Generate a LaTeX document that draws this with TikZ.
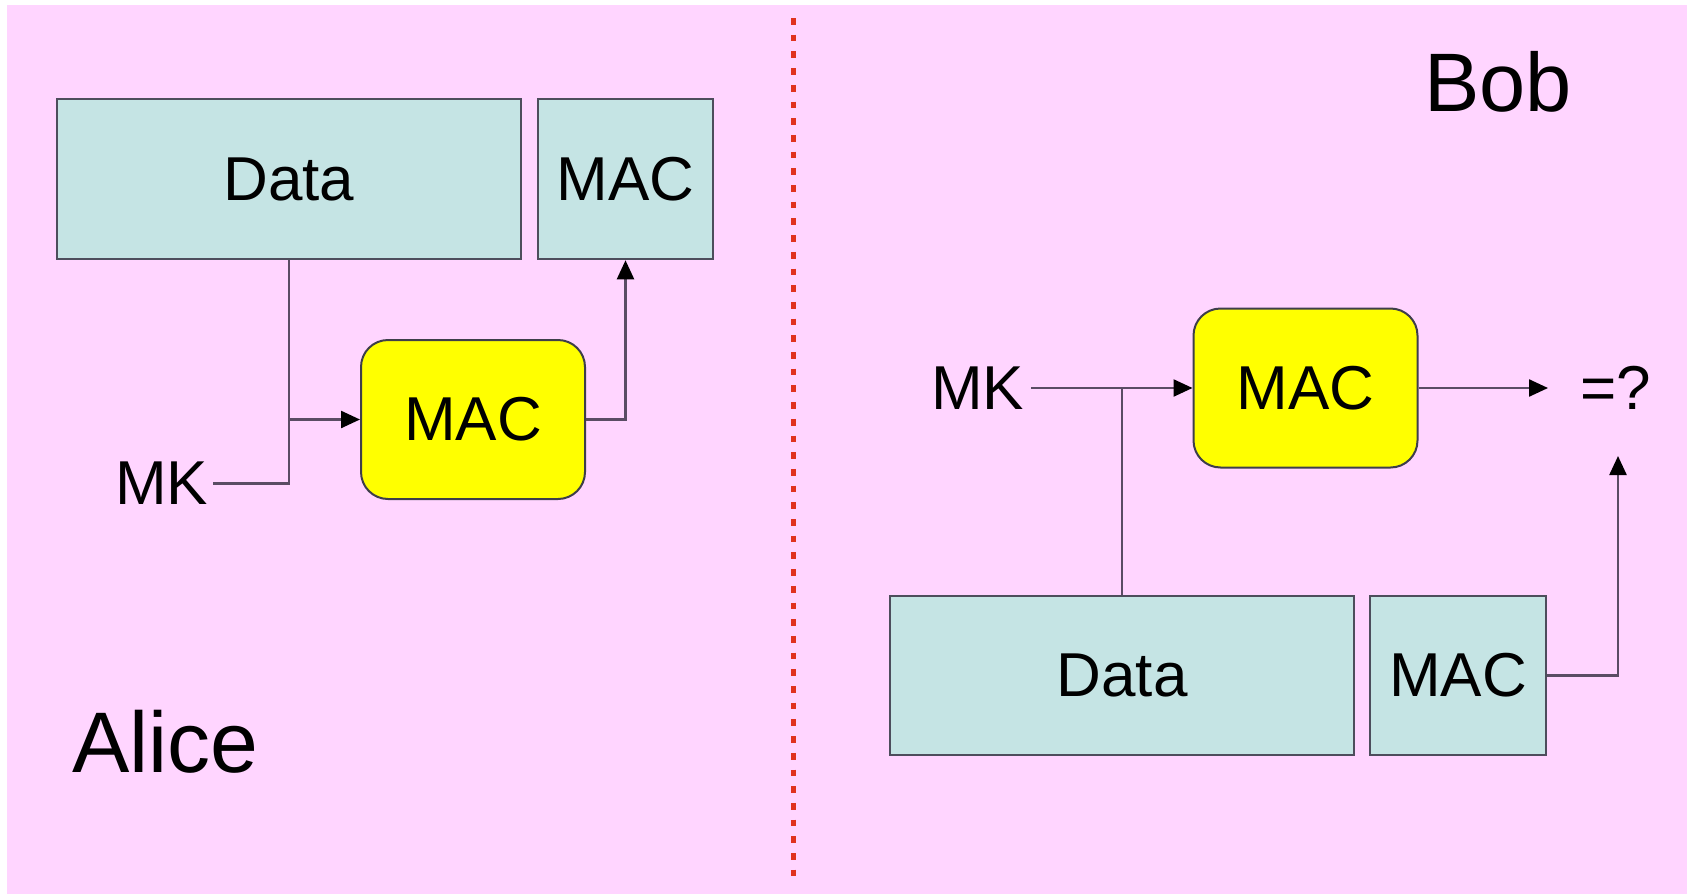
\documentclass[tikz,border=0pt]{standalone}
\usepackage{fontspec}
\setmainfont{Liberation Sans}
\usetikzlibrary{arrows.meta}

\definecolor{slidebg}{HTML}{FFD5FF}
\definecolor{boxfill}{HTML}{C5E4E4}
\definecolor{boxline}{HTML}{4D4D5C}
\definecolor{wire}{HTML}{5A4C64}
\definecolor{divider}{HTML}{E0321E}
\definecolor{macyellow}{HTML}{FFFF00}

\tikzset{
  field/.style={draw=boxline, line width=2.6pt, fill=boxfill, inner sep=0pt,
    font=\fontsize{62}{70}\selectfont},
  macfun/.style={draw=boxline!80!black, line width=2pt, fill=macyellow, inner sep=0pt,
    rounded corners=27pt, minimum width=224pt, minimum height=159pt,
    font=\fontsize{62}{70}\selectfont},
  label/.style={inner sep=0pt, font=\fontsize{62}{70}\selectfont},
  who/.style={inner sep=0pt, anchor=base west},
  wireline/.style={draw=wire, line width=2.4pt},
  flow/.style={wireline, -{Triangle[length=19pt,width=17pt,color=black]}},
}

\begin{document}
\begin{tikzpicture}[x=1pt,y=-1pt]
\useasboundingbox (0,0) rectangle (1689,894);
\fill[white] (0,0) rectangle (1689,894);
\fill[slidebg] (7,5) rectangle (1687,894);

% dividing line between the two parties
\draw[divider, line width=5pt, dash pattern=on 6.7pt off 10pt] (793,18) -- (793,877);

% ---- sender side ----
\node[field, minimum width=464pt, minimum height=160pt] (dataA) at (289,179) {Data};
\node[field, minimum width=175pt, minimum height=160pt] (tagA) at (625.5,179) {MAC};
\node[macfun] (macA) at (473,419.5) {MAC};
\node[label] (mkA) at (161.5,483.5) {MK};
\node[who, font=\fontsize{86}{92}\selectfont] (alice) at (72,772) {Alice};

\draw[wireline] ([xshift=5pt]mkA.east) -| (dataA.south);
\draw[flow] (dataA.south |- macA.west) -- (macA.west);
\draw[flow] (macA.east) -| (tagA.south);

% ---- receiver side ----
\node[who, font=\fontsize{83}{90}\selectfont] (bob) at (1424,111) {Bob};
\node[macfun] (macB) at (1305.5,388) {MAC};
\node[label] (mkB) at (977.5,388) {MK};
\node[label] (cmp) at (1616,388) {=?};
\node[field, minimum width=464pt, minimum height=159pt] (dataB) at (1122,675.5) {Data};
\node[field, minimum width=176pt, minimum height=159pt] (tagB) at (1458,675.5) {MAC};
\coordinate (cmpL) at (1548,388);
\coordinate (cmpB) at (1618,456);

\draw[flow] ([xshift=7pt]mkB.east) -- (macB.west);
\draw[wireline] (dataB.north) -- (dataB.north |- macB.west);
\draw[flow] (macB.east) -- (cmpL);
\draw[flow] (tagB.east) -| (cmpB);
\end{tikzpicture}
\end{document}
